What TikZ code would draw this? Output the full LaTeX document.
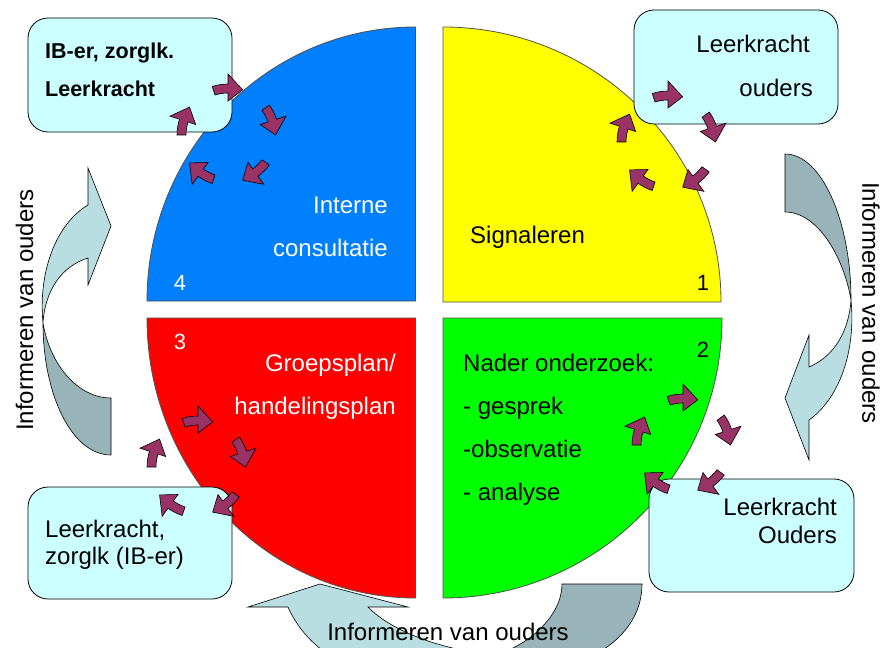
\documentclass[tikz,border=0pt]{standalone}
\usepackage{fontspec}
\setmainfont{Liberation Sans}
\usetikzlibrary{calc}
\definecolor{qblue}{RGB}{0,128,255}
\definecolor{qyellow}{RGB}{255,255,0}
\definecolor{qred}{RGB}{255,0,0}
\definecolor{qgreen}{RGB}{0,255,0}
\definecolor{boxfill}{RGB}{204,255,255}
\definecolor{plum}{RGB}{153,51,102}
\definecolor{arrlight}{RGB}{185,222,225}
\definecolor{arrdark}{RGB}{152,180,184}
\definecolor{edgegray}{RGB}{80,80,80}
\newcommand\ringarrows[2]{%
  \begin{scope}[shift={(#1,#2)}, yscale=-1]
    \foreach \p in {88,16,-56,-128,160}{
      \draw[sarr] ({\p+20}:51) arc[start angle={\p+20}, end angle={\p+2}, radius=51]
        -- ({\p+2}:61) -- ({\p-16}:47.5) -- ({\p+2}:34) -- ({\p+2}:42)
        arc[start angle={\p+2}, end angle={\p+20}, radius=42] -- cycle;
    }
  \end{scope}}
\begin{document}
\begin{tikzpicture}[x=1pt,y=-1pt,
  quad/.style={draw=edgegray, line width=0.8pt},
  infobox/.style={draw=black, line width=0.8pt, fill=boxfill, rounded corners=20pt, rectangle, inner sep=0pt},
  big/.style={draw=black, line width=0.6pt},
  sarr/.style={draw=black, line width=0.6pt, fill=plum},
  txt/.style={inner sep=0pt, font=\fontsize{24}{28}\selectfont},
  btxt/.style={inner sep=0pt, font=\fontsize{21.5}{26}\selectfont\bfseries},
  num/.style={inner sep=0pt, font=\fontsize{22}{26}\selectfont}]

\useasboundingbox (0,0) rectangle (882,647);

% quadrants
\fill[white] (0,0) rectangle (882,647);
\draw[quad, fill=qblue] (415.5,301) -- (415.5,27) arc[start angle=-90, end angle=-180, x radius=268.5, y radius=274] -- cycle;
\draw[quad, fill=qyellow] (443,302) -- (443,27) arc[start angle=-90, end angle=0, x radius=278, y radius=275] -- cycle;
\draw[quad, fill=qred] (415.5,318) -- (147,318) arc[start angle=180, end angle=90, x radius=268.5, y radius=280] -- cycle;
\draw[quad, fill=qgreen] (443,318) -- (722,318) arc[start angle=0, end angle=90, x radius=279, y radius=280] -- cycle;

% big curved arrows
% right
\draw[big, fill=arrdark] (785,154) .. controls (822,154) and (851,222) .. (851,300)
  .. controls (844,258) and (818,212) .. (785,212) -- cycle;
\draw[big, fill=arrlight] (851,300) .. controls (849,330) and (835,356) .. (809,367)
  -- (809,335) -- (785,398) -- (809,460) -- (809,420)
  .. controls (840,398) and (856,350) .. (851,300) -- cycle;
% left
\draw[big, fill=arrdark] (111,455) .. controls (72,455) and (43,395) .. (43,323)
  .. controls (50,365) and (78,398) .. (111,398) -- cycle;
\draw[big, fill=arrlight] (43,323) .. controls (45,290) and (62,266) .. (88,258)
  -- (88,285) -- (111,226) -- (88,168) -- (88,205)
  .. controls (56,224) and (38,272) .. (43,323) -- cycle;
% bottom
\draw[big, fill=arrdark] (562,584) -- (642,584) .. controls (642,640) and (580,672) .. (530,668)
  .. controls (515,666) and (503,662) .. (495,655)
  .. controls (530,645) and (562,615) .. (562,584) -- cycle;
\draw[big, fill=arrlight] (495,655) .. controls (470,672) and (400,680) .. (350,665)
  .. controls (320,655) and (298,630) .. (288,607) -- (248,607) -- (320,584) -- (408,607) -- (368,607)
  .. controls (390,630) and (440,650) .. (495,655) -- cycle;

% side texts
\node[txt, rotate=90] (infoleft) at (24.5,310) {Informeren van ouders};
\node[txt, rotate=-90] (inforight) at (871,303) {Informeren van ouders};
\node[txt, anchor=base] (infobottom) at (448,640) {Informeren van ouders};

% quadrant texts
\node[txt, text=white, anchor=base east] (q4a) at (388,213) {Interne};
\node[txt, text=white, anchor=base east] (q4b) at (388,256) {consultatie};
\node[num, text=white, anchor=base] (n4) at (180,290) {4};
\node[txt, anchor=base west] (q1a) at (470,243) {Signaleren};
\node[num, anchor=base] (n1) at (703,290) {1};
\node[num, text=white, anchor=base] (n3) at (180,349) {3};
\node[txt, text=white, anchor=base east] (q3a) at (396,371) {Groepsplan/};
\node[txt, text=white, anchor=base east] (q3b) at (396,414) {handelingsplan};
\node[num, anchor=base] (n2) at (703,357) {2};
\node[txt, anchor=base west] (q2a) at (463,371) {Nader onderzoek:};
\node[txt, anchor=base west] (q2b) at (463,414) {- gesprek};
\node[txt, anchor=base west] (q2c) at (463,457) {-observatie};
\node[txt, anchor=base west] (q2d) at (463,500) {- analyse};

% boxes
\node[infobox, minimum width=204pt, minimum height=114pt] (boxtl) at (130,75) {};
\node[infobox, minimum width=204pt, minimum height=114pt] (boxtr) at (736,67) {};
\node[infobox, minimum width=204pt, minimum height=112pt] (boxbl) at (130,543) {};
\node[infobox, minimum width=205pt, minimum height=113pt] (boxbr) at (751.5,535.5) {};

\node[btxt, anchor=base west] (tl1) at (45,59) {IB-er, zorglk.};
\node[btxt, anchor=base west] (tl2) at (45,97) {Leerkracht};
\node[txt, anchor=base east] (tr1) at (810,53) {Leerkracht};
\node[txt, anchor=base east] (tr2) at (813,97) {ouders};
\node[txt, anchor=base west] (bl1) at (45,537) {Leerkracht,};
\node[txt, anchor=base west] (bl2) at (45,564) {zorglk (IB-er)};
\node[txt, anchor=base east] (br1) at (837,515) {Leerkracht};
\node[txt, anchor=base east] (br2) at (837,543) {Ouders};

% small cycle arrows
\ringarrows{668}{142}
\ringarrows{228}{135}
\ringarrows{198}{467}
\ringarrows{683}{445}
\end{tikzpicture}
\end{document}
